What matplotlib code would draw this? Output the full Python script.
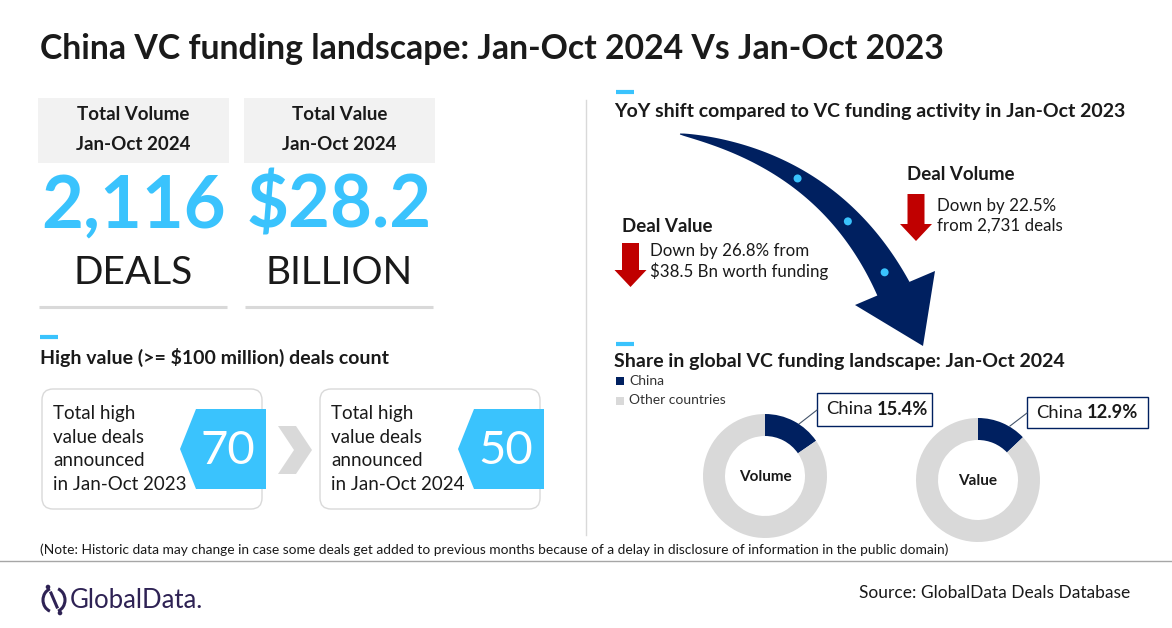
import matplotlib
matplotlib.use("Agg")
import matplotlib.pyplot as plt
from matplotlib.patches import Polygon, FancyBboxPatch, Rectangle, Circle, Arc
import numpy as np

# ---- dados ----
kpi_labels = ["Total Volume\nJan-Oct 2024", "Total Value\nJan-Oct 2024"]
kpi_values = ["2,116", "$28.2"]
kpi_units = ["DEALS", "BILLION"]

high_value_periods = ["Jan-Oct 2023", "Jan-Oct 2024"]
high_value_counts = [70, 50]

yoy_titles = ["Deal Value", "Deal Volume"]
yoy_texts = ["Down by 26.8% from\n$38.5 Bn worth funding",
             "Down by 22.5%\nfrom 2,731 deals"]

share_labels = ["Volume", "Value"]
share_china = [15.4, 12.9]
legend_labels = ["China", "Other countries"]

NAVY = "#002060"
CYAN = "#3ac3fd"
GRAY = "#d9d9d9"
RED = "#c00000"
TXT = "#1a1a1a"

plt.rcParams["font.family"] = ["Lato", "DejaVu Sans"]

W, H = 1172, 628
fig = plt.figure(figsize=(W / 100, H / 100), dpi=100)
ax = fig.add_axes([0, 0, 1, 1])
ax.set_xlim(0, W)
ax.set_ylim(H, 0)
ax.axis("off")

# titulo
ax.text(40, 49, "China VC funding landscape: Jan-Oct 2024 Vs Jan-Oct 2023",
        fontsize=24.3, fontweight="bold", color=TXT, va="center")

# ---- KPIs ----
for i in range(2):
    x0 = 38 + i * 206
    ax.add_patch(Rectangle((x0, 98), 191, 65, color="#f2f2f2", lw=0))
    l1, l2 = kpi_labels[i].split("\n")
    ax.text(x0 + 95.5, 114, l1, fontsize=13.5, fontweight="bold", ha="center", va="center", color=TXT)
    ax.text(x0 + 95.5, 145, l2, fontsize=13.5, fontweight="bold", ha="center", va="center", color=TXT)
    ax.text(x0 + 95.5, 207, kpi_values[i], fontsize=52, fontweight="bold", ha="center",
            va="center", color=CYAN)
    ax.text(x0 + 95.5, 273, kpi_units[i], fontsize=28, ha="center", va="center", color=TXT)
    ax.plot([x0 + 1, x0 + 189], [307, 307], color=GRAY, lw=2.2, solid_capstyle="butt")

# ---- high value deals ----
ax.plot([40, 58], [337, 337], color=CYAN, lw=3, solid_capstyle="butt")
ax.text(40, 357, "High value (>= $100 million) deals count", fontsize=14,
        fontweight="bold", va="center", color=TXT)

for i in range(2):
    dx = i * 278
    ax.add_patch(FancyBboxPatch((42 + dx, 389), 220, 120,
                                boxstyle="round,pad=0,rounding_size=11",
                                fc="white", ec="#d9d9d9", lw=1))
    ax.add_patch(Polygon([(196 + dx, 409), (266 + dx, 409), (266 + dx, 489),
                          (196 + dx, 489), (180 + dx, 449)], closed=True, color=CYAN, lw=0))
    lines = ["Total high", "value deals", "announced", "in " + high_value_periods[i]]
    for k, s in enumerate(lines):
        ax.text(53 + dx, 414 + k * 23.5, s, fontsize=13.5, va="center", color=TXT)
    ax.text(228 + dx, 451, str(high_value_counts[i]), fontsize=34, color="white",
            ha="center", va="center")

ax.add_patch(Polygon([(278, 426), (296, 426), (312, 450), (296, 474), (278, 474), (294, 450)],
                     closed=True, color=GRAY, lw=0))

# divisoria
ax.plot([586, 586], [100, 535], color=GRAY, lw=1)

# ---- YoY ----
ax.plot([616, 634], [92, 92], color=CYAN, lw=3, solid_capstyle="butt")
ax.text(614, 111, "YoY shift compared to VC funding activity in Jan-Oct 2023",
        fontsize=14, fontweight="bold", va="center", color=TXT)

# seta curva
P0, P1, P2 = np.array([680, 134]), np.array([830, 160]), np.array([894, 290])
t = np.linspace(0, 1, 80)
c = (1 - t)[:, None] ** 2 * P0 + 2 * ((1 - t) * t)[:, None] * P1 + (t ** 2)[:, None] * P2
d = 2 * (1 - t)[:, None] * (P1 - P0) + 2 * t[:, None] * (P2 - P1)
nrm = np.stack([-d[:, 1], d[:, 0]], axis=1)
nrm /= np.linalg.norm(nrm, axis=1)[:, None]
hw = 0.5 + 17 * t ** 0.75
up = c + nrm * hw[:, None]
lo = c - nrm * hw[:, None]
ax.add_patch(Polygon(np.vstack([up, lo[::-1]]), closed=True, color=NAVY, lw=0))
ax.add_patch(Polygon([(855, 305), (935, 271), (923, 346)], closed=True, color=NAVY, lw=0))
for tt in [0.45, 0.7, 0.93]:
    p = (1 - tt) ** 2 * P0 + 2 * (1 - tt) * tt * P1 + tt ** 2 * P2
    ax.add_patch(Circle(p, 4, color=CYAN, lw=0))

def red_arrow(x, ytop, ytip):
    ax.add_patch(Polygon([(x - 8.5, ytop), (x + 8.5, ytop), (x + 8.5, ytip - 17),
                          (x + 16, ytip - 17), (x, ytip), (x - 16, ytip - 17),
                          (x - 8.5, ytip - 17)], closed=True, color=RED, lw=0))

red_arrow(630.5, 243, 287)
red_arrow(916, 194, 241)
ax.text(622, 226, yoy_titles[0], fontsize=13.5, fontweight="bold", va="center", color=TXT)
ax.text(907, 174, yoy_titles[1], fontsize=13.5, fontweight="bold", va="center", color=TXT)
for k, s in enumerate(yoy_texts[0].split("\n")):
    ax.text(650, 251 + k * 20, s, fontsize=12.2, va="center", color=TXT)
for k, s in enumerate(yoy_texts[1].split("\n")):
    ax.text(937, 206 + k * 20, s, fontsize=12.2, va="center", color=TXT)

# ---- share ----
ax.plot([616, 634], [344, 344], color=CYAN, lw=3, solid_capstyle="butt")
ax.text(614, 362, "Share in global VC funding landscape: Jan-Oct 2024",
        fontsize=14, fontweight="bold", va="center", color=TXT)
for k, (lab, col) in enumerate(zip(legend_labels, [NAVY, GRAY])):
    ax.add_patch(Rectangle((616, 377 + k * 19.5), 8, 8, color=col, lw=0))
    ax.text(629, 381 + k * 19.5, lab, fontsize=10, va="center", color="#333333")

centers = [(765, 476), (978, 480)]
boxes = [(817, 393, 115, 33), (1027, 397, 121, 31)]
leaders = [((799, 424), (817, 410)), ((1010, 426), (1027, 413))]
R = 62
for i in range(2):
    cx, cy = centers[i]
    pax = fig.add_axes([(cx - R) / W, 1 - (cy + R) / H, 2 * R / W, 2 * R / H])
    pax.pie([share_china[i], 100 - share_china[i]], colors=[NAVY, GRAY], startangle=90,
            counterclock=False, radius=1, wedgeprops=dict(width=0.355, linewidth=0))
    pax.set_xlim(-1, 1)
    pax.set_ylim(-1, 1)
    pax.set_aspect("equal")
    pax.axis("off")
    ax.text(cx, cy + 1, share_labels[i], fontsize=11, fontweight="bold", ha="center",
            va="center", color=TXT)
    bx, by, bw, bh = boxes[i]
    ax.add_patch(Rectangle((bx, by), bw, bh, fc="white", ec=NAVY, lw=1))
    t1 = ax.text(bx + 9, by + bh / 2, "China", fontsize=13.2, va="center", color=TXT)
    ax.annotate(f"{share_china[i]}%", xy=(1, 0.5), xycoords=t1, xytext=(3, 0),
                textcoords="offset points", fontsize=13.2, fontweight="bold",
                va="center", ha="left", color=TXT)
    (x1, y1), (x2, y2) = leaders[i]
    ax.plot([x1, x2], [y1, y2], color="#44546a", lw=0.8)

# ---- rodape ----
ax.text(40, 550, "(Note: Historic data may change in case some deals get added to previous months "
        "because of a delay in disclosure of information in the public domain)",
        fontsize=9.9, va="center", color=TXT)
ax.plot([0, W], [561, 561], color="#a6a6a6", lw=1)

PURPLE = "#2e2254"
ax.add_patch(Arc((54, 600), 22, 24, theta1=110, theta2=250, color=PURPLE, lw=2.2))
ax.add_patch(Arc((54, 600), 22, 24, theta1=-70, theta2=70, color=PURPLE, lw=2.2))
ax.plot([51, 57], [593, 607], color=PURPLE, lw=2.2)
ax.add_patch(Circle((48, 587), 1.6, color=PURPLE))
ax.add_patch(Circle((60, 613), 1.6, color=PURPLE))
ax.text(70, 600, "GlobalData.", fontsize=18.5, color=PURPLE, va="center")
ax.text(1130, 593, "Source: GlobalData Deals Database", fontsize=12.5, ha="right",
        va="center", color=TXT)

fig.savefig("out.png", dpi=100)
